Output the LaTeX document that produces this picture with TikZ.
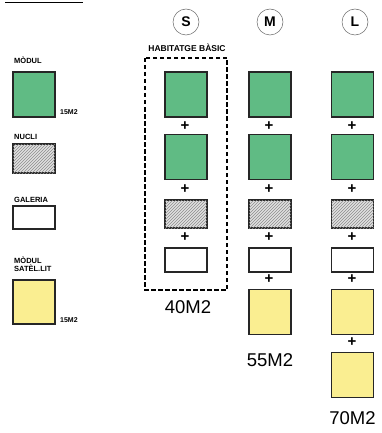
\documentclass[tikz,border=0pt]{standalone}
\usepackage{fontspec}
\setmainfont{Liberation Sans}
\usetikzlibrary{patterns}
\definecolor{verd}{RGB}{96,187,132}
\definecolor{groc}{RGB}{250,238,145}
\tikzset{
  caixa/.style={draw=black!85, line width=1.3pt, minimum width=42pt, inner sep=0pt},
  modul/.style={caixa, fill=verd, minimum height=45pt},
  nucli/.style={caixa, fill=black!12, minimum height=28pt,
    postaction={pattern=north east lines, pattern color=black!45}},
  galeria/.style={caixa, fill=white, minimum height=24pt},
  satellit/.style={caixa, fill=groc, minimum height=45pt},
  mes/.style={font=\bfseries\fontsize{15}{15}\selectfont, inner sep=0pt},
  etiq/.style={font=\bfseries\fontsize{7.5}{8}\selectfont, inner sep=0pt, anchor=west},
  m2/.style={etiq, font=\bfseries\fontsize{7}{7}\selectfont},
  total/.style={font=\fontsize{18.5}{18.5}\selectfont, inner sep=0pt},
  talla/.style={draw=black!60, line width=0.5pt, circle, minimum size=26pt, inner sep=0pt,
    font=\bfseries\fontsize{14}{14}\selectfont}
}
\begin{document}
\begin{tikzpicture}[x=1pt,y=-1pt]
			%%%%% START %%%%%
			\useasboundingbox (0,0) rectangle (381,433);
			
			\draw[line width=0.8pt] (5,2) -- (83,2);
			
			% llegenda
			\node[etiq] (tmodul) at (14,60) {MÒDUL};
			\node[modul] (lmodul) at (34,94.5) {};
			\node[m2] (lm2a) at (60,112) {15M2};
			\node[etiq] (tnucli) at (14,137) {NUCLI};
			\node[nucli, minimum height=29pt] (lnucli) at (34,158.5) {};
			\node[etiq] (tgaleria) at (14,200) {GALERIA};
			\node[galeria, minimum height=23pt] (lgaleria) at (34,217.5) {};
			\node[etiq, align=left] (tsat) at (14,264.5) {MÒDUL\\SATÈL.LIT};
			\node[satellit, minimum height=44pt] (lsat) at (34,302) {};
			\node[m2] (lm2b) at (60,320) {15M2};
			
			% S
			\node[talla] (cS) at (186,22) {S};
			\node[font=\bfseries\fontsize{8.5}{9}\selectfont, inner sep=0pt] (basic) at (187,48) {HABITATGE BÀSIC};
			\draw[line width=1.6pt, dash pattern=on 4.5pt off 2.5pt] (145,58) rectangle (227,290);
			\node[modul] (s1) at (186,94.5) {};
			\node[mes] (sp1) at (185,126.5) {+};
			\node[modul] (s2) at (186,157) {};
			\node[mes] (sp2) at (185,189.5) {+};
			\node[nucli] (s3) at (186,214) {};
			\node[mes] (sp3) at (185,237.5) {+};
			\node[galeria] (s4) at (186,260) {};
			\node[total] (tS) at (188,307) {40M2};
			
			% M
			\node[talla] (cM) at (270,22) {M};
			\node[modul] (m1) at (270,94.5) {};
			\node[mes] (mp1) at (269,126.5) {+};
			\node[modul] (m2) at (270,157) {};
			\node[mes] (mp2) at (269,189.5) {+};
			\node[nucli] (m3) at (270,214) {};
			\node[mes] (mp3) at (269,237.5) {+};
			\node[galeria] (m4) at (270,260) {};
			\node[mes] (mp4) at (269,279.5) {+};
			\node[satellit] (m5) at (270,312) {};
			\node[total] (tM) at (270,360) {55M2};
			
			% L
			\node[talla] (cL) at (355,22) {L};
			\node[modul] (g1) at (352.5,94.5) {};
			\node[mes] (gp1) at (352,126.5) {+};
			\node[modul] (g2) at (352.5,157) {};
			\node[mes] (gp2) at (352,189.5) {+};
			\node[nucli] (g3) at (352.5,214) {};
			\node[mes] (gp3) at (352,237.5) {+};
			\node[galeria] (g4) at (352.5,260) {};
			\node[mes] (gp4) at (352,279.5) {+};
			\node[satellit] (g5) at (352.5,312) {};
			\node[mes] (gp5) at (352,342.5) {+};
			\node[satellit] (g6) at (352.5,375) {};
			\node[total] (tL) at (352.5,418) {70M2};
			
			%%%%% END %%%%%
\end{tikzpicture}
\end{document}
